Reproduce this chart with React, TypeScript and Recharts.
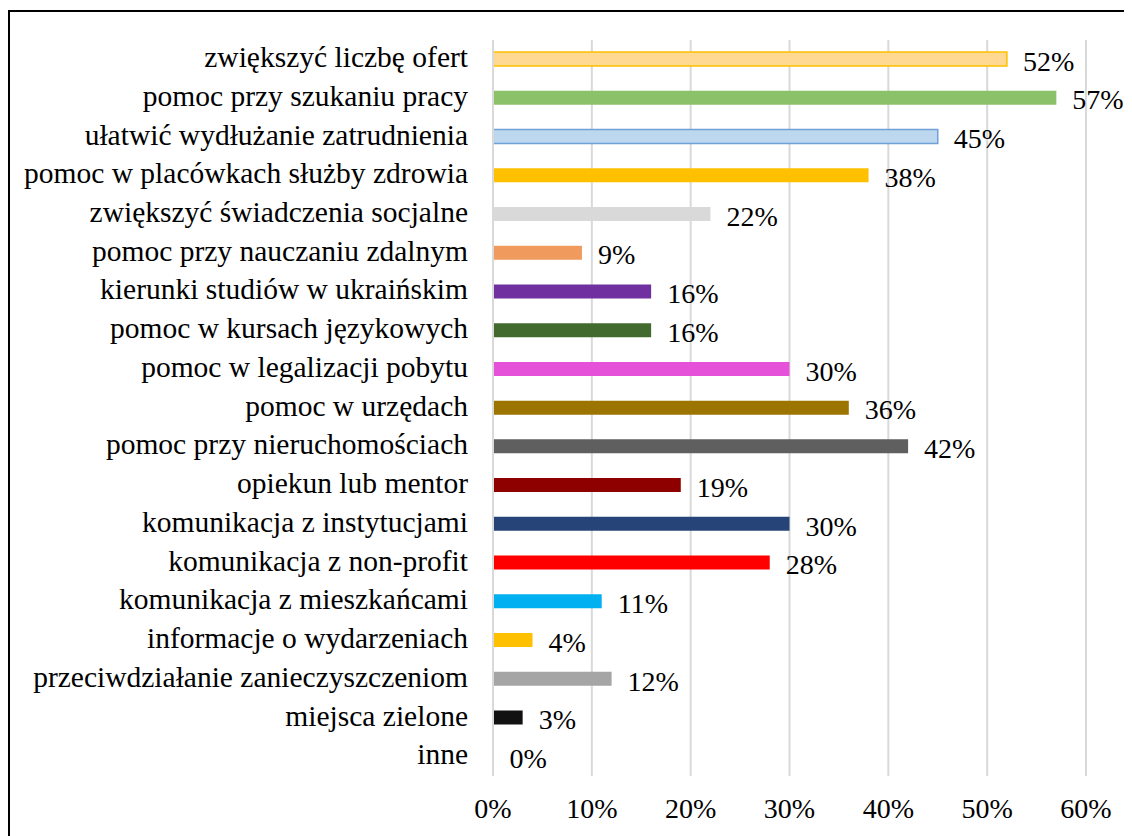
import React from 'react';
import { BarChart, Bar, XAxis, YAxis, CartesianGrid, LabelList, Cell } from 'recharts';

// categories top to bottom
const categories = [
  'zwiększyć liczbę ofert',
  'pomoc przy szukaniu pracy',
  'ułatwić wydłużanie zatrudnienia',
  'pomoc w placówkach służby zdrowia',
  'zwiększyć świadczenia socjalne',
  'pomoc przy nauczaniu zdalnym',
  'kierunki studiów w ukraińskim',
  'pomoc w kursach językowych',
  'pomoc w legalizacji pobytu',
  'pomoc w urzędach',
  'pomoc przy nieruchomościach',
  'opiekun lub mentor',
  'komunikacja z instytucjami',
  'komunikacja z non-profit',
  'komunikacja z mieszkańcami',
  'informacje o wydarzeniach',
  'przeciwdziałanie zanieczyszczeniom',
  'miejsca zielone',
  'inne',
];

const values = [52, 57, 45, 38, 22, 9, 16, 16, 30, 36, 42, 19, 30, 28, 11, 4, 12, 3, 0];

const fills = [
  '#FFD991', '#8BC169', '#BDD7EE', '#FFC000', '#D9D9D9', '#F19A5E', '#7030A0',
  '#426A2F', '#E651DA', '#9C7400', '#5F5F5F', '#8E0000', '#264478', '#FF0000',
  '#00B0F0', '#FFC000', '#A5A5A5', '#111111', 'none',
];

const strokes: (string | null)[] = [
  '#FFC000', null, '#6FA0D8', null, null, null, null, null, null, null,
  null, null, null, null, null, null, null, null, null,
];

const xTicks = [0, 10, 20, 30, 40, 50, 60];

const data = categories.map((name, i) => ({ name, value: values[i] }));

const FONT = "'Liberation Serif', 'Times New Roman', serif";

const CategoryTick = (props: any) => {
  const { x, y, payload } = props;
  return (
    <text x={x} y={y} dy="0.26em" textAnchor="end" style={{ fontFamily: FONT }} fontSize={29.5} fill="#000">
      {payload.value}
    </text>
  );
};

const PercentTick = (props: any) => {
  const { x, y, payload } = props;
  return (
    <text x={x} y={y + 42} textAnchor="middle" style={{ fontFamily: FONT }} fontSize={28} fill="#000">
      {`${payload.value}%`}
    </text>
  );
};

const ValueLabel = (props: any) => {
  const { x, y, width, height, value } = props;
  return (
    <text
      x={Number(x) + Number(width) + 16}
      y={Number(y) + Number(height) / 2}
      dy="0.42em"
      style={{ fontFamily: FONT }}
      fontSize={28}
      fill="#000"
    >
      {`${value}%`}
    </text>
  );
};

export default function App() {
  return (
    <div style={{ position: 'relative', width: 1124, height: 828, overflow: 'hidden', background: '#fff' }}>
      <div
        style={{
          position: 'absolute',
          left: 0,
          top: 2,
          width: 2000,
          height: 2000,
          border: '2px solid #000',
          boxSizing: 'border-box',
        }}
      />
      <div style={{ position: 'absolute', left: 0, top: 0 }}>
        <BarChart
          width={1124}
          height={828}
          data={data}
          layout="vertical"
          margin={{ top: 32, right: 46, left: 0, bottom: 0 }}
          barSize={14}
        >
          <CartesianGrid horizontal={false} stroke="#D9D9D9" strokeWidth={2} />
          <XAxis
            type="number"
            domain={[0, 60]}
            ticks={xTicks}
            interval={0}
            axisLine={false}
            tickLine={false}
            tickSize={0}
            tickMargin={0}
            height={60}
            tick={<PercentTick />}
          />
          <YAxis
            type="category"
            dataKey="name"
            width={485}
            axisLine={{ stroke: '#D9D9D9', strokeWidth: 2 }}
            tickLine={false}
            tickSize={0}
            tickMargin={25}
            interval={0}
            tick={<CategoryTick />}
          />
          <Bar dataKey="value" isAnimationActive={false} minPointSize={0.5}>
            {data.map((d, i) => (
              <Cell
                key={d.name}
                fill={fills[i]}
                stroke={strokes[i] ?? 'none'}
                strokeWidth={strokes[i] ? 1.5 : 0}
              />
            ))}
            <LabelList dataKey="value" content={<ValueLabel />} />
          </Bar>
        </BarChart>
      </div>
    </div>
  );
}
